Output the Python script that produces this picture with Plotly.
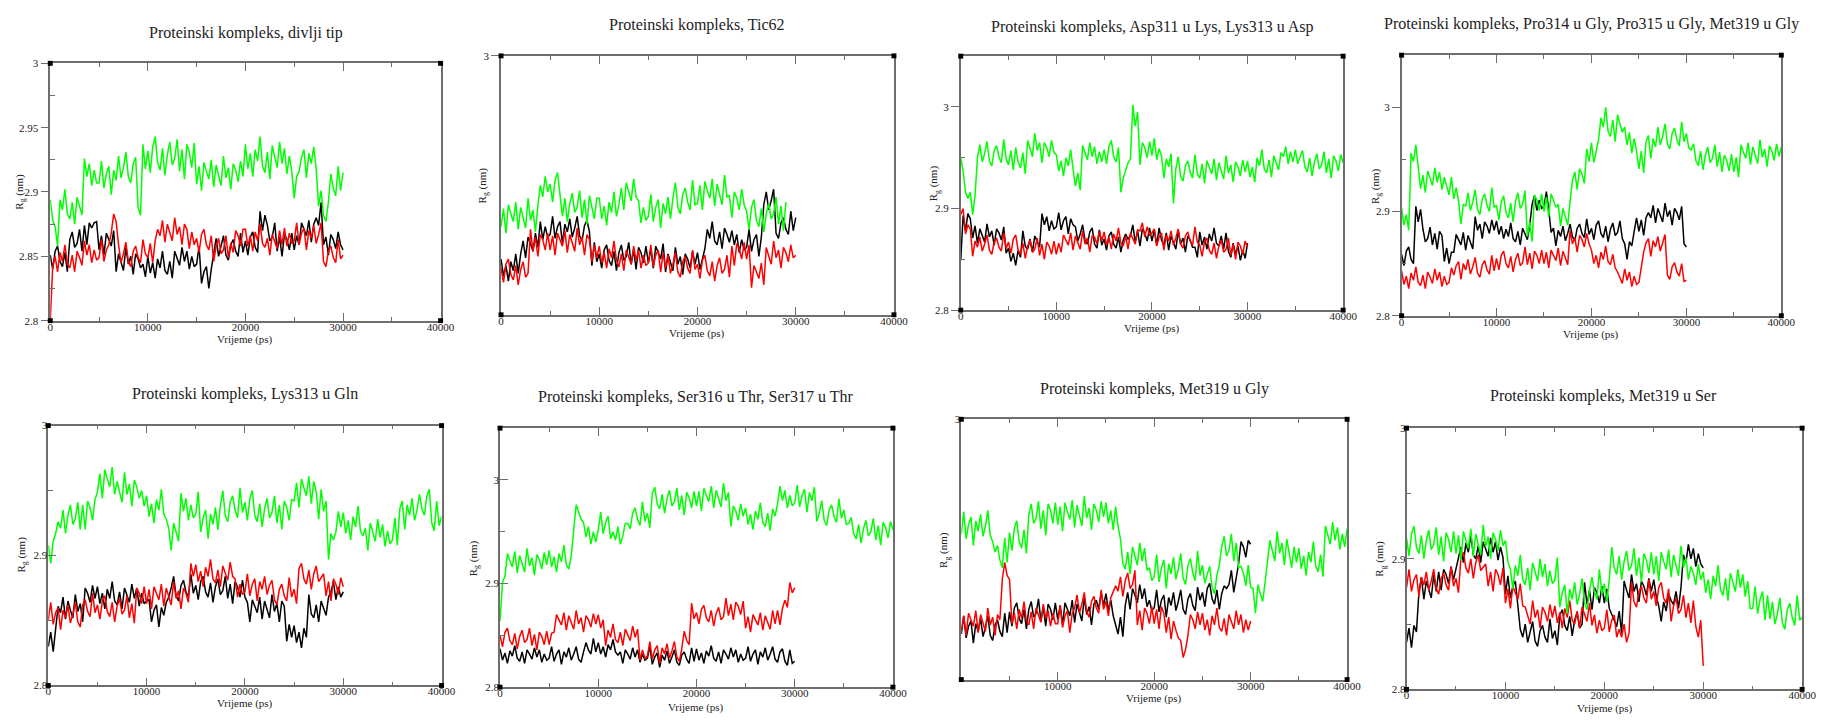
import plotly.graph_objects as go

W, H = 1830, 720
TIME_STEP_PS = 250

TITLES = [
    "Proteinski kompleks, divlji tip",
    "Proteinski kompleks, Tic62",
    "Proteinski kompleks, Asp311 u Lys, Lys313 u Asp",
    "Proteinski kompleks, Pro314 u Gly, Pro315 u Gly, Met319 u Gly",
    "Proteinski kompleks, Lys313 u Gln",
    "Proteinski kompleks, Ser316 u Thr, Ser317 u Thr",
    "Proteinski kompleks, Met319 u Gly",
    "Proteinski kompleks, Met319 u Ser",
]
X_TITLE = "Vrijeme (ps)"
Y_TITLE = "R<sub>g</sub> (nm)"

# ---------------- data: Rg (nm), one sample every 250 ps ----------------
P1_GREEN = [2.894, 2.878, 2.873, 2.858, 2.894, 2.886, 2.902, 2.883, 2.879, 2.892, 2.875, 2.896, 2.889, 2.882, 2.926, 2.912, 2.922, 2.905, 2.917, 2.907,
            2.907, 2.924, 2.903, 2.914, 2.920, 2.898, 2.917, 2.909, 2.928, 2.911, 2.919, 2.931, 2.912, 2.907, 2.922, 2.927, 2.888, 2.882, 2.937, 2.918,
            2.932, 2.915, 2.935, 2.943, 2.923, 2.917, 2.934, 2.913, 2.929, 2.939, 2.921, 2.926, 2.941, 2.916, 2.933, 2.910, 2.937, 2.931, 2.919, 2.938,
            2.906, 2.920, 2.901, 2.923, 2.916, 2.910, 2.925, 2.904, 2.921, 2.913, 2.905, 2.928, 2.911, 2.919, 2.902, 2.922, 2.917, 2.908, 2.924, 2.912,
            2.937, 2.918, 2.930, 2.912, 2.933, 2.924, 2.943, 2.920, 2.915, 2.931, 2.910, 2.936, 2.927, 2.919, 2.939, 2.922, 2.934, 2.914, 2.928, 2.916,
            2.895, 2.912, 2.916, 2.927, 2.933, 2.911, 2.930, 2.922, 2.935, 2.918, 2.889, 2.901, 2.882, 2.877, 2.892, 2.914, 2.903, 2.897, 2.920, 2.901,
            2.915]
P1_BLACK = [2.851, 2.840, 2.854, 2.858, 2.846, 2.842, 2.853, 2.838, 2.863, 2.869, 2.857, 2.860, 2.871, 2.854, 2.874, 2.859, 2.876, 2.872, 2.876, 2.877,
            2.855, 2.866, 2.851, 2.868, 2.863, 2.858, 2.870, 2.838, 2.852, 2.845, 2.839, 2.857, 2.844, 2.850, 2.836, 2.852, 2.848, 2.841, 2.844, 2.834,
            2.850, 2.837, 2.845, 2.833, 2.848, 2.841, 2.854, 2.839, 2.836, 2.846, 2.833, 2.854, 2.849, 2.843, 2.857, 2.846, 2.854, 2.840, 2.850, 2.842,
            2.844, 2.858, 2.829, 2.838, 2.842, 2.825, 2.840, 2.854, 2.864, 2.850, 2.857, 2.866, 2.851, 2.847, 2.859, 2.863, 2.854, 2.850, 2.868, 2.853,
            2.862, 2.851, 2.865, 2.869, 2.857, 2.853, 2.885, 2.870, 2.882, 2.874, 2.862, 2.865, 2.876, 2.854, 2.865, 2.850, 2.867, 2.863, 2.855, 2.868,
            2.855, 2.866, 2.859, 2.876, 2.871, 2.866, 2.878, 2.861, 2.875, 2.880, 2.874, 2.892, 2.859, 2.865, 2.851, 2.867, 2.863, 2.856, 2.869, 2.859,
            2.855]
P1_RED = [2.800, 2.842, 2.850, 2.838, 2.853, 2.846, 2.859, 2.844, 2.841, 2.851, 2.838, 2.854, 2.849, 2.843, 2.862, 2.851, 2.859, 2.845, 2.855, 2.847,
          2.849, 2.863, 2.846, 2.855, 2.859, 2.868, 2.883, 2.877, 2.859, 2.845, 2.852, 2.861, 2.846, 2.842, 2.854, 2.858, 2.849, 2.845, 2.863, 2.852,
          2.849, 2.860, 2.845, 2.862, 2.871, 2.866, 2.878, 2.861, 2.875, 2.868, 2.862, 2.880, 2.867, 2.873, 2.859, 2.875, 2.871, 2.856, 2.869, 2.859,
          2.864, 2.853, 2.867, 2.871, 2.859, 2.855, 2.866, 2.846, 2.858, 2.864, 2.852, 2.855, 2.866, 2.849, 2.860, 2.853, 2.870, 2.866, 2.858, 2.871,
          2.871, 2.858, 2.866, 2.854, 2.869, 2.862, 2.875, 2.860, 2.857, 2.864, 2.851, 2.867, 2.862, 2.856, 2.870, 2.859, 2.872, 2.858, 2.868, 2.860,
          2.862, 2.876, 2.859, 2.868, 2.872, 2.855, 2.870, 2.864, 2.874, 2.860, 2.867, 2.876, 2.846, 2.842, 2.854, 2.858, 2.849, 2.845, 2.863, 2.848,
          2.851]

P2_GREEN = [2.868, 2.882, 2.863, 2.885, 2.878, 2.872, 2.887, 2.866, 2.883, 2.875, 2.867, 2.890, 2.873, 2.881, 2.864, 2.884, 2.900, 2.891, 2.907, 2.895,
            2.901, 2.887, 2.904, 2.910, 2.894, 2.876, 2.890, 2.872, 2.886, 2.894, 2.879, 2.883, 2.896, 2.875, 2.889, 2.870, 2.892, 2.884, 2.874, 2.890,
            2.890, 2.874, 2.884, 2.869, 2.887, 2.879, 2.895, 2.876, 2.885, 2.898, 2.881, 2.902, 2.895, 2.888, 2.905, 2.891, 2.888, 2.871, 2.883, 2.873,
            2.876, 2.893, 2.872, 2.883, 2.889, 2.867, 2.886, 2.878, 2.891, 2.874, 2.890, 2.902, 2.883, 2.878, 2.893, 2.898, 2.887, 2.881, 2.904, 2.885,
            2.886, 2.900, 2.881, 2.903, 2.896, 2.890, 2.905, 2.884, 2.901, 2.893, 2.885, 2.908, 2.891, 2.892, 2.875, 2.895, 2.890, 2.881, 2.897, 2.885,
            2.880, 2.866, 2.883, 2.889, 2.873, 2.868, 2.882, 2.864, 2.878, 2.886, 2.874, 2.878, 2.891, 2.870, 2.884, 2.865, 2.887]
P2_BLACK = [2.843, 2.830, 2.838, 2.826, 2.841, 2.834, 2.847, 2.832, 2.847, 2.857, 2.844, 2.860, 2.855, 2.849, 2.863, 2.852, 2.872, 2.858, 2.868, 2.860,
            2.862, 2.876, 2.859, 2.868, 2.872, 2.855, 2.870, 2.864, 2.874, 2.860, 2.867, 2.876, 2.861, 2.857, 2.869, 2.873, 2.864, 2.838, 2.856, 2.841,
            2.847, 2.836, 2.850, 2.854, 2.842, 2.838, 2.849, 2.834, 2.848, 2.854, 2.842, 2.845, 2.856, 2.839, 2.850, 2.835, 2.852, 2.848, 2.840, 2.853,
            2.840, 2.851, 2.836, 2.853, 2.848, 2.843, 2.855, 2.833, 2.847, 2.840, 2.834, 2.852, 2.839, 2.845, 2.831, 2.847, 2.843, 2.836, 2.849, 2.839,
            2.848, 2.835, 2.843, 2.851, 2.866, 2.859, 2.872, 2.857, 2.854, 2.864, 2.851, 2.867, 2.862, 2.856, 2.865, 2.854, 2.862, 2.848, 2.858, 2.850,
            2.852, 2.866, 2.849, 2.858, 2.862, 2.845, 2.860, 2.885, 2.895, 2.881, 2.888, 2.897, 2.863, 2.859, 2.871, 2.875, 2.866, 2.862, 2.880, 2.865,
            2.875]
P2_RED = [2.836, 2.825, 2.839, 2.843, 2.831, 2.827, 2.838, 2.823, 2.835, 2.841, 2.829, 2.832, 2.866, 2.849, 2.860, 2.845, 2.862, 2.858, 2.850, 2.863,
          2.850, 2.861, 2.846, 2.863, 2.858, 2.853, 2.865, 2.848, 2.862, 2.855, 2.849, 2.867, 2.854, 2.860, 2.846, 2.862, 2.858, 2.841, 2.854, 2.844,
          2.853, 2.840, 2.848, 2.836, 2.851, 2.844, 2.857, 2.842, 2.837, 2.847, 2.834, 2.850, 2.845, 2.839, 2.853, 2.842, 2.850, 2.836, 2.846, 2.838,
          2.840, 2.854, 2.837, 2.846, 2.850, 2.833, 2.848, 2.836, 2.846, 2.832, 2.839, 2.848, 2.833, 2.829, 2.841, 2.845, 2.836, 2.832, 2.850, 2.835,
          2.839, 2.828, 2.842, 2.846, 2.834, 2.830, 2.841, 2.826, 2.838, 2.844, 2.832, 2.835, 2.846, 2.829, 2.853, 2.838, 2.855, 2.851, 2.843, 2.856,
          2.843, 2.854, 2.821, 2.838, 2.833, 2.828, 2.840, 2.823, 2.852, 2.845, 2.839, 2.857, 2.844, 2.850, 2.836, 2.852, 2.848, 2.841, 2.854, 2.844,
          2.846]

P3_GREEN = [2.950, 2.937, 2.916, 2.910, 2.916, 2.894, 2.913, 2.950, 2.963, 2.946, 2.954, 2.966, 2.947, 2.942, 2.957, 2.962, 2.951, 2.945, 2.968, 2.949,
            2.943, 2.957, 2.938, 2.960, 2.946, 2.940, 2.955, 2.934, 2.967, 2.959, 2.951, 2.974, 2.957, 2.965, 2.945, 2.965, 2.960, 2.951, 2.967, 2.955,
            2.953, 2.937, 2.947, 2.932, 2.950, 2.942, 2.958, 2.939, 2.922, 2.935, 2.918, 2.962, 2.955, 2.948, 2.965, 2.951, 2.961, 2.944, 2.956, 2.946,
            2.958, 2.944, 2.961, 2.967, 2.951, 2.946, 2.960, 2.916, 2.930, 2.938, 2.945, 2.949, 3.002, 2.981, 2.995, 2.943, 2.965, 2.960, 2.950, 2.966,
            2.952, 2.969, 2.948, 2.959, 2.952, 2.930, 2.949, 2.941, 2.954, 2.905, 2.939, 2.951, 2.932, 2.927, 2.942, 2.947, 2.936, 2.930, 2.953, 2.934,
            2.930, 2.944, 2.925, 2.947, 2.940, 2.934, 2.949, 2.928, 2.945, 2.937, 2.929, 2.952, 2.935, 2.943, 2.926, 2.946, 2.941, 2.932, 2.948, 2.936,
            2.947, 2.931, 2.941, 2.926, 2.950, 2.942, 2.958, 2.939, 2.935, 2.948, 2.931, 2.952, 2.945, 2.938, 2.955, 2.951, 2.961, 2.944, 2.956, 2.946,
            2.958, 2.944, 2.951, 2.957, 2.941, 2.936, 2.950, 2.932, 2.946, 2.954, 2.939, 2.943, 2.956, 2.935, 2.949, 2.930, 2.952, 2.947, 2.937, 2.953,
            2.945]
P3_BLACK = [2.849, 2.893, 2.878, 2.895, 2.890, 2.871, 2.883, 2.866, 2.880, 2.873, 2.867, 2.885, 2.872, 2.878, 2.864, 2.880, 2.876, 2.869, 2.882, 2.856,
            2.861, 2.848, 2.856, 2.844, 2.859, 2.852, 2.878, 2.863, 2.860, 2.870, 2.857, 2.873, 2.868, 2.862, 2.895, 2.884, 2.892, 2.878, 2.888, 2.880,
            2.882, 2.896, 2.879, 2.888, 2.892, 2.875, 2.890, 2.884, 2.882, 2.868, 2.875, 2.884, 2.869, 2.865, 2.877, 2.881, 2.865, 2.861, 2.879, 2.864,
            2.870, 2.859, 2.873, 2.877, 2.865, 2.861, 2.872, 2.857, 2.869, 2.875, 2.870, 2.873, 2.884, 2.867, 2.878, 2.863, 2.880, 2.876, 2.868, 2.881,
            2.868, 2.879, 2.864, 2.881, 2.869, 2.864, 2.876, 2.859, 2.873, 2.866, 2.860, 2.878, 2.865, 2.871, 2.857, 2.873, 2.869, 2.862, 2.862, 2.852,
            2.877, 2.864, 2.872, 2.860, 2.875, 2.868, 2.881, 2.866, 2.863, 2.873, 2.860, 2.876, 2.858, 2.852, 2.866, 2.855, 2.863, 2.849, 2.859, 2.851,
            2.866]
P3_RED = [2.894, 2.900, 2.875, 2.884, 2.880, 2.853, 2.868, 2.862, 2.872, 2.858, 2.865, 2.874, 2.859, 2.855, 2.867, 2.871, 2.862, 2.858, 2.876, 2.861,
          2.867, 2.856, 2.870, 2.874, 2.859, 2.855, 2.866, 2.851, 2.863, 2.869, 2.857, 2.860, 2.871, 2.854, 2.865, 2.850, 2.867, 2.863, 2.855, 2.868,
          2.855, 2.866, 2.857, 2.874, 2.869, 2.864, 2.876, 2.859, 2.873, 2.866, 2.860, 2.878, 2.865, 2.871, 2.857, 2.873, 2.872, 2.865, 2.878, 2.868,
          2.877, 2.864, 2.872, 2.860, 2.875, 2.868, 2.881, 2.866, 2.863, 2.873, 2.860, 2.876, 2.871, 2.865, 2.879, 2.878, 2.886, 2.872, 2.882, 2.874,
          2.876, 2.880, 2.863, 2.872, 2.876, 2.859, 2.874, 2.868, 2.878, 2.864, 2.871, 2.880, 2.865, 2.861, 2.873, 2.877, 2.868, 2.864, 2.882, 2.867,
          2.864, 2.853, 2.867, 2.871, 2.859, 2.855, 2.866, 2.851, 2.863, 2.869, 2.857, 2.860, 2.871, 2.854, 2.865, 2.850, 2.867, 2.863, 2.855, 2.868,
          2.862]

P4_GREEN = [2.903, 2.887, 2.897, 2.882, 2.956, 2.948, 2.964, 2.945, 2.922, 2.935, 2.918, 2.939, 2.932, 2.925, 2.942, 2.928, 2.938, 2.921, 2.933, 2.923,
            2.916, 2.933, 2.912, 2.923, 2.910, 2.888, 2.907, 2.905, 2.918, 2.901, 2.909, 2.921, 2.902, 2.897, 2.912, 2.917, 2.906, 2.900, 2.923, 2.904,
            2.906, 2.892, 2.909, 2.915, 2.899, 2.894, 2.908, 2.890, 2.910, 2.918, 2.903, 2.907, 2.920, 2.876, 2.890, 2.871, 2.916, 2.911, 2.901, 2.917,
            2.900, 2.914, 2.895, 2.917, 2.910, 2.904, 2.907, 2.886, 2.903, 2.895, 2.887, 2.910, 2.930, 2.938, 2.921, 2.941, 2.936, 2.927, 2.960, 2.948,
            2.966, 2.947, 2.959, 2.969, 2.990, 2.981, 3.000, 2.977, 2.972, 2.988, 2.967, 2.993, 2.984, 2.976, 2.981, 2.964, 2.976, 2.956, 2.970, 2.958,
            2.941, 2.958, 2.937, 2.967, 2.973, 2.951, 2.970, 2.962, 2.981, 2.964, 2.972, 2.984, 2.965, 2.960, 2.975, 2.980, 2.969, 2.963, 2.986, 2.967,
            2.975, 2.961, 2.959, 2.965, 2.949, 2.944, 2.958, 2.940, 2.954, 2.962, 2.947, 2.951, 2.964, 2.943, 2.957, 2.938, 2.954, 2.949, 2.939, 2.955,
            2.938, 2.952, 2.933, 2.964, 2.957, 2.951, 2.966, 2.945, 2.962, 2.954, 2.946, 2.969, 2.952, 2.960, 2.943, 2.963, 2.958, 2.949, 2.965, 2.953,
            2.962]
P4_BLACK = [2.859, 2.848, 2.862, 2.866, 2.854, 2.850, 2.905, 2.890, 2.902, 2.883, 2.871, 2.874, 2.885, 2.868, 2.879, 2.864, 2.881, 2.877, 2.852, 2.865,
            2.850, 2.861, 2.861, 2.878, 2.873, 2.868, 2.880, 2.863, 2.877, 2.870, 2.864, 2.895, 2.882, 2.888, 2.874, 2.890, 2.886, 2.879, 2.892, 2.882,
            2.891, 2.878, 2.886, 2.874, 2.883, 2.876, 2.889, 2.874, 2.871, 2.881, 2.868, 2.884, 2.879, 2.873, 2.887, 2.907, 2.915, 2.901, 2.911, 2.903,
            2.905, 2.919, 2.902, 2.880, 2.884, 2.867, 2.882, 2.876, 2.886, 2.872, 2.879, 2.888, 2.876, 2.872, 2.884, 2.888, 2.879, 2.875, 2.893, 2.878,
            2.884, 2.873, 2.887, 2.891, 2.879, 2.875, 2.886, 2.871, 2.883, 2.889, 2.877, 2.880, 2.891, 2.874, 2.869, 2.854, 2.871, 2.867, 2.881, 2.894,
            2.881, 2.892, 2.877, 2.894, 2.899, 2.894, 2.906, 2.889, 2.903, 2.896, 2.890, 2.908, 2.895, 2.901, 2.887, 2.903, 2.899, 2.892, 2.905, 2.869,
            2.866]
P4_RED = [2.843, 2.830, 2.838, 2.826, 2.841, 2.834, 2.847, 2.832, 2.829, 2.839, 2.826, 2.842, 2.837, 2.831, 2.845, 2.834, 2.842, 2.828, 2.838, 2.830,
          2.832, 2.846, 2.839, 2.848, 2.852, 2.835, 2.850, 2.844, 2.854, 2.840, 2.847, 2.856, 2.841, 2.837, 2.849, 2.853, 2.844, 2.840, 2.858, 2.843,
          2.855, 2.844, 2.858, 2.862, 2.850, 2.846, 2.857, 2.842, 2.854, 2.860, 2.848, 2.851, 2.866, 2.849, 2.860, 2.845, 2.862, 2.858, 2.850, 2.863,
          2.850, 2.861, 2.846, 2.863, 2.858, 2.853, 2.865, 2.848, 2.862, 2.855, 2.849, 2.882, 2.869, 2.875, 2.861, 2.877, 2.873, 2.866, 2.879, 2.869,
          2.863, 2.850, 2.858, 2.846, 2.861, 2.854, 2.867, 2.852, 2.849, 2.859, 2.846, 2.842, 2.837, 2.831, 2.845, 2.834, 2.842, 2.828, 2.838, 2.830,
          2.832, 2.846, 2.861, 2.870, 2.874, 2.857, 2.872, 2.866, 2.876, 2.862, 2.869, 2.878, 2.839, 2.835, 2.847, 2.851, 2.842, 2.838, 2.850, 2.833,
          2.834]

P5_GREEN = [2.908, 2.894, 2.911, 2.917, 2.926, 2.921, 2.935, 2.917, 2.931, 2.939, 2.924, 2.928, 2.941, 2.920, 2.939, 2.920, 2.942, 2.937, 2.927, 2.943,
            2.949, 2.963, 2.944, 2.966, 2.959, 2.953, 2.968, 2.947, 2.957, 2.949, 2.941, 2.964, 2.947, 2.955, 2.938, 2.958, 2.953, 2.944, 2.950, 2.938,
            2.946, 2.930, 2.940, 2.925, 2.943, 2.935, 2.951, 2.932, 2.928, 2.921, 2.904, 2.925, 2.918, 2.911, 2.948, 2.934, 2.944, 2.927, 2.939, 2.929,
            2.932, 2.949, 2.918, 2.929, 2.935, 2.913, 2.932, 2.924, 2.937, 2.920, 2.938, 2.950, 2.931, 2.926, 2.941, 2.946, 2.935, 2.929, 2.952, 2.933,
            2.941, 2.927, 2.944, 2.950, 2.931, 2.926, 2.940, 2.922, 2.936, 2.944, 2.929, 2.933, 2.946, 2.925, 2.939, 2.920, 2.942, 2.937, 2.927, 2.943,
            2.942, 2.956, 2.937, 2.959, 2.952, 2.946, 2.961, 2.940, 2.957, 2.949, 2.928, 2.951, 2.934, 2.942, 2.897, 2.917, 2.912, 2.918, 2.934, 2.922,
            2.933, 2.917, 2.927, 2.912, 2.930, 2.922, 2.938, 2.919, 2.915, 2.921, 2.904, 2.925, 2.918, 2.911, 2.928, 2.914, 2.924, 2.907, 2.919, 2.909,
            2.912, 2.929, 2.908, 2.936, 2.942, 2.920, 2.939, 2.931, 2.944, 2.927, 2.935, 2.947, 2.936, 2.931, 2.946, 2.951, 2.925, 2.919, 2.942, 2.923,
            2.930]
P5_BLACK = [2.830, 2.841, 2.826, 2.843, 2.861, 2.856, 2.868, 2.851, 2.865, 2.858, 2.852, 2.870, 2.857, 2.863, 2.849, 2.875, 2.871, 2.864, 2.877, 2.867,
            2.876, 2.863, 2.871, 2.859, 2.874, 2.867, 2.880, 2.865, 2.862, 2.872, 2.859, 2.875, 2.870, 2.864, 2.878, 2.867, 2.875, 2.861, 2.871, 2.863,
            2.865, 2.866, 2.849, 2.858, 2.862, 2.845, 2.860, 2.854, 2.864, 2.868, 2.875, 2.884, 2.869, 2.865, 2.877, 2.881, 2.872, 2.868, 2.886, 2.871,
            2.877, 2.866, 2.880, 2.884, 2.872, 2.868, 2.879, 2.864, 2.876, 2.882, 2.870, 2.873, 2.884, 2.867, 2.878, 2.863, 2.880, 2.876, 2.868, 2.881,
            2.868, 2.864, 2.849, 2.866, 2.861, 2.856, 2.868, 2.851, 2.865, 2.858, 2.852, 2.870, 2.857, 2.863, 2.849, 2.865, 2.861, 2.834, 2.847, 2.837,
            2.846, 2.833, 2.841, 2.829, 2.844, 2.837, 2.870, 2.855, 2.852, 2.862, 2.849, 2.865, 2.860, 2.854, 2.868, 2.872, 2.880, 2.866, 2.876, 2.868,
            2.872]
P5_RED = [2.850, 2.864, 2.847, 2.856, 2.860, 2.843, 2.858, 2.852, 2.862, 2.848, 2.855, 2.864, 2.849, 2.845, 2.862, 2.866, 2.857, 2.853, 2.871, 2.856,
          2.862, 2.851, 2.865, 2.869, 2.857, 2.853, 2.864, 2.849, 2.861, 2.867, 2.855, 2.858, 2.869, 2.852, 2.863, 2.848, 2.875, 2.871, 2.863, 2.876,
          2.863, 2.874, 2.859, 2.876, 2.871, 2.866, 2.878, 2.861, 2.875, 2.868, 2.862, 2.880, 2.867, 2.873, 2.859, 2.875, 2.871, 2.864, 2.894, 2.884,
          2.893, 2.880, 2.888, 2.876, 2.891, 2.884, 2.897, 2.882, 2.879, 2.889, 2.876, 2.892, 2.887, 2.881, 2.895, 2.884, 2.882, 2.868, 2.878, 2.870,
          2.872, 2.886, 2.869, 2.878, 2.882, 2.865, 2.880, 2.874, 2.884, 2.870, 2.877, 2.881, 2.866, 2.862, 2.874, 2.878, 2.869, 2.865, 2.883, 2.868,
          2.874, 2.863, 2.890, 2.894, 2.882, 2.878, 2.889, 2.874, 2.886, 2.892, 2.880, 2.883, 2.886, 2.869, 2.880, 2.865, 2.882, 2.878, 2.870, 2.883,
          2.876]

P6_GREEN = [2.864, 2.901, 2.907, 2.929, 2.922, 2.916, 2.931, 2.910, 2.927, 2.919, 2.911, 2.934, 2.917, 2.925, 2.908, 2.928, 2.923, 2.914, 2.930, 2.918,
            2.932, 2.916, 2.926, 2.911, 2.929, 2.921, 2.937, 2.918, 2.914, 2.927, 2.955, 2.976, 2.969, 2.962, 2.959, 2.945, 2.955, 2.938, 2.950, 2.940,
            2.952, 2.969, 2.948, 2.959, 2.965, 2.943, 2.950, 2.942, 2.955, 2.938, 2.946, 2.958, 2.958, 2.953, 2.968, 2.973, 2.962, 2.956, 2.979, 2.960,
            2.968, 2.954, 2.987, 2.993, 2.977, 2.972, 2.986, 2.968, 2.982, 2.990, 2.975, 2.979, 2.992, 2.971, 2.985, 2.966, 2.988, 2.983, 2.973, 2.989,
            2.975, 2.989, 2.970, 2.992, 2.985, 2.979, 2.994, 2.973, 2.990, 2.982, 2.974, 2.997, 2.980, 2.988, 2.955, 2.975, 2.970, 2.961, 2.977, 2.965,
            2.973, 2.957, 2.967, 2.952, 2.970, 2.962, 2.978, 2.959, 2.955, 2.968, 2.951, 2.972, 2.965, 2.977, 2.994, 2.980, 2.990, 2.973, 2.985, 2.975,
            2.978, 2.995, 2.974, 2.985, 2.991, 2.969, 2.988, 2.980, 2.993, 2.960, 2.968, 2.980, 2.961, 2.956, 2.971, 2.976, 2.965, 2.959, 2.982, 2.963,
            2.971, 2.957, 2.958, 2.964, 2.948, 2.943, 2.957, 2.939, 2.953, 2.961, 2.946, 2.950, 2.963, 2.942, 2.956, 2.937, 2.959, 2.954, 2.944, 2.960,
            2.952]
P6_BLACK = [2.837, 2.826, 2.833, 2.823, 2.835, 2.830, 2.840, 2.828, 2.825, 2.834, 2.823, 2.836, 2.832, 2.827, 2.838, 2.829, 2.836, 2.824, 2.832, 2.826,
            2.828, 2.839, 2.825, 2.832, 2.836, 2.822, 2.834, 2.829, 2.838, 2.826, 2.832, 2.839, 2.827, 2.824, 2.834, 2.843, 2.836, 2.832, 2.847, 2.834,
            2.843, 2.832, 2.839, 2.829, 2.841, 2.836, 2.846, 2.834, 2.831, 2.834, 2.823, 2.836, 2.832, 2.827, 2.838, 2.829, 2.836, 2.824, 2.832, 2.826,
            2.828, 2.839, 2.822, 2.829, 2.833, 2.819, 2.831, 2.826, 2.835, 2.823, 2.829, 2.836, 2.824, 2.821, 2.831, 2.834, 2.827, 2.823, 2.838, 2.825,
            2.837, 2.826, 2.833, 2.823, 2.835, 2.830, 2.840, 2.828, 2.825, 2.834, 2.823, 2.836, 2.832, 2.827, 2.838, 2.829, 2.836, 2.824, 2.832, 2.826,
            2.828, 2.839, 2.825, 2.832, 2.836, 2.822, 2.834, 2.829, 2.838, 2.826, 2.832, 2.839, 2.827, 2.824, 2.834, 2.837, 2.825, 2.821, 2.836, 2.823,
            2.825]
P6_RED = [2.850, 2.839, 2.853, 2.857, 2.845, 2.841, 2.852, 2.837, 2.849, 2.855, 2.843, 2.846, 2.857, 2.840, 2.851, 2.836, 2.853, 2.849, 2.841, 2.854,
          2.841, 2.852, 2.853, 2.870, 2.865, 2.860, 2.872, 2.855, 2.869, 2.862, 2.856, 2.874, 2.861, 2.867, 2.853, 2.869, 2.865, 2.858, 2.871, 2.861,
          2.870, 2.857, 2.865, 2.840, 2.855, 2.848, 2.861, 2.846, 2.843, 2.853, 2.840, 2.856, 2.851, 2.845, 2.859, 2.848, 2.856, 2.826, 2.836, 2.828,
          2.830, 2.844, 2.827, 2.836, 2.840, 2.823, 2.838, 2.832, 2.842, 2.828, 2.835, 2.844, 2.829, 2.825, 2.837, 2.854, 2.845, 2.841, 2.881, 2.866,
          2.872, 2.861, 2.875, 2.879, 2.867, 2.863, 2.874, 2.859, 2.871, 2.877, 2.865, 2.868, 2.886, 2.869, 2.880, 2.865, 2.882, 2.878, 2.870, 2.883,
          2.857, 2.868, 2.853, 2.870, 2.865, 2.860, 2.872, 2.855, 2.869, 2.862, 2.856, 2.874, 2.861, 2.874, 2.860, 2.876, 2.884, 2.877, 2.901, 2.891,
          2.896]

P7_GREEN = [2.912, 2.929, 2.908, 2.919, 2.925, 2.903, 2.922, 2.914, 2.927, 2.910, 2.918, 2.930, 2.911, 2.906, 2.898, 2.903, 2.892, 2.886, 2.909, 2.890,
            2.913, 2.899, 2.916, 2.922, 2.906, 2.901, 2.915, 2.897, 2.927, 2.935, 2.920, 2.924, 2.937, 2.916, 2.930, 2.911, 2.935, 2.930, 2.920, 2.936,
            2.919, 2.933, 2.914, 2.936, 2.929, 2.923, 2.938, 2.917, 2.934, 2.926, 2.918, 2.941, 2.924, 2.932, 2.915, 2.935, 2.930, 2.921, 2.937, 2.925,
            2.936, 2.920, 2.930, 2.915, 2.933, 2.918, 2.908, 2.889, 2.885, 2.898, 2.881, 2.902, 2.895, 2.888, 2.905, 2.891, 2.901, 2.884, 2.886, 2.876,
            2.879, 2.896, 2.875, 2.886, 2.892, 2.870, 2.889, 2.881, 2.894, 2.877, 2.885, 2.897, 2.878, 2.873, 2.888, 2.893, 2.882, 2.876, 2.899, 2.880,
            2.888, 2.874, 2.881, 2.887, 2.871, 2.866, 2.880, 2.888, 2.902, 2.910, 2.895, 2.899, 2.912, 2.891, 2.905, 2.886, 2.887, 2.882, 2.872, 2.888,
            2.871, 2.870, 2.851, 2.873, 2.866, 2.860, 2.875, 2.890, 2.907, 2.899, 2.891, 2.914, 2.897, 2.905, 2.888, 2.908, 2.895, 2.886, 2.902, 2.890,
            2.901, 2.885, 2.895, 2.880, 2.898, 2.890, 2.906, 2.887, 2.883, 2.896, 2.879, 2.918, 2.911, 2.904, 2.921, 2.907, 2.917, 2.900, 2.912, 2.902,
            2.916]
P7_BLACK = [2.835, 2.849, 2.832, 2.841, 2.845, 2.828, 2.843, 2.837, 2.847, 2.833, 2.840, 2.849, 2.834, 2.830, 2.842, 2.846, 2.837, 2.833, 2.851, 2.836,
            2.852, 2.841, 2.855, 2.859, 2.847, 2.843, 2.854, 2.839, 2.854, 2.860, 2.848, 2.851, 2.862, 2.845, 2.856, 2.841, 2.858, 2.854, 2.846, 2.859,
            2.846, 2.857, 2.842, 2.859, 2.854, 2.849, 2.861, 2.844, 2.858, 2.851, 2.845, 2.863, 2.850, 2.856, 2.842, 2.858, 2.861, 2.854, 2.867, 2.857,
            2.866, 2.853, 2.861, 2.849, 2.842, 2.835, 2.848, 2.833, 2.857, 2.867, 2.854, 2.870, 2.865, 2.859, 2.873, 2.862, 2.870, 2.856, 2.861, 2.853,
            2.855, 2.869, 2.852, 2.861, 2.865, 2.848, 2.863, 2.857, 2.867, 2.853, 2.860, 2.869, 2.854, 2.850, 2.862, 2.866, 2.857, 2.853, 2.871, 2.861,
            2.867, 2.856, 2.870, 2.874, 2.862, 2.858, 2.869, 2.854, 2.866, 2.872, 2.870, 2.873, 2.884, 2.867, 2.878, 2.889, 2.906, 2.902, 2.894, 2.907,
            2.904]
P7_RED = [2.838, 2.849, 2.834, 2.851, 2.846, 2.841, 2.853, 2.836, 2.850, 2.843, 2.837, 2.855, 2.842, 2.848, 2.834, 2.850, 2.846, 2.877, 2.890, 2.880,
          2.877, 2.843, 2.851, 2.839, 2.854, 2.847, 2.860, 2.845, 2.842, 2.852, 2.839, 2.855, 2.850, 2.844, 2.858, 2.847, 2.853, 2.841, 2.851, 2.843,
          2.843, 2.857, 2.840, 2.849, 2.853, 2.836, 2.851, 2.855, 2.865, 2.851, 2.858, 2.867, 2.852, 2.848, 2.860, 2.864, 2.855, 2.851, 2.869, 2.854,
          2.860, 2.849, 2.863, 2.867, 2.872, 2.868, 2.879, 2.864, 2.876, 2.882, 2.870, 2.873, 2.884, 2.842, 2.853, 2.838, 2.855, 2.851, 2.843, 2.856,
          2.843, 2.854, 2.839, 2.856, 2.851, 2.836, 2.848, 2.831, 2.845, 2.838, 2.832, 2.830, 2.817, 2.823, 2.834, 2.850, 2.846, 2.839, 2.852, 2.842,
          2.851, 2.838, 2.846, 2.834, 2.849, 2.842, 2.855, 2.840, 2.837, 2.847, 2.834, 2.850, 2.845, 2.839, 2.853, 2.842, 2.850, 2.836, 2.846, 2.838,
          2.845]

P8_GREEN = [2.916, 2.902, 2.919, 2.925, 2.909, 2.904, 2.918, 2.900, 2.914, 2.922, 2.907, 2.911, 2.924, 2.903, 2.917, 2.898, 2.920, 2.915, 2.905, 2.921,
            2.904, 2.918, 2.899, 2.921, 2.914, 2.908, 2.923, 2.902, 2.919, 2.911, 2.903, 2.926, 2.909, 2.917, 2.900, 2.920, 2.915, 2.906, 2.922, 2.910,
            2.914, 2.898, 2.892, 2.877, 2.895, 2.887, 2.903, 2.884, 2.880, 2.893, 2.876, 2.897, 2.890, 2.883, 2.900, 2.886, 2.896, 2.879, 2.891, 2.881,
            2.884, 2.901, 2.863, 2.874, 2.880, 2.858, 2.877, 2.869, 2.882, 2.865, 2.873, 2.885, 2.866, 2.861, 2.876, 2.886, 2.875, 2.869, 2.892, 2.873,
            2.881, 2.867, 2.884, 2.909, 2.893, 2.888, 2.902, 2.884, 2.898, 2.906, 2.891, 2.895, 2.908, 2.887, 2.901, 2.882, 2.904, 2.899, 2.889, 2.905,
            2.888, 2.902, 2.883, 2.905, 2.898, 2.892, 2.907, 2.886, 2.903, 2.895, 2.887, 2.910, 2.893, 2.901, 2.884, 2.894, 2.889, 2.880, 2.896, 2.884,
            2.890, 2.874, 2.884, 2.869, 2.887, 2.879, 2.895, 2.876, 2.872, 2.885, 2.868, 2.889, 2.882, 2.875, 2.892, 2.878, 2.888, 2.871, 2.883, 2.862,
            2.862, 2.879, 2.858, 2.869, 2.875, 2.853, 2.872, 2.854, 2.867, 2.850, 2.858, 2.870, 2.851, 2.846, 2.861, 2.866, 2.855, 2.849, 2.872, 2.853,
            2.855]
P8_BLACK = [2.836, 2.847, 2.832, 2.849, 2.844, 2.874, 2.886, 2.869, 2.883, 2.876, 2.870, 2.888, 2.875, 2.890, 2.876, 2.892, 2.888, 2.881, 2.894, 2.884,
            2.893, 2.901, 2.909, 2.897, 2.912, 2.905, 2.918, 2.903, 2.900, 2.910, 2.897, 2.913, 2.908, 2.902, 2.916, 2.905, 2.913, 2.899, 2.909, 2.901,
            2.873, 2.887, 2.870, 2.879, 2.883, 2.866, 2.846, 2.840, 2.850, 2.836, 2.843, 2.852, 2.837, 2.833, 2.845, 2.849, 2.840, 2.836, 2.854, 2.839,
            2.845, 2.834, 2.857, 2.861, 2.849, 2.845, 2.856, 2.841, 2.853, 2.859, 2.847, 2.850, 2.882, 2.865, 2.876, 2.861, 2.878, 2.874, 2.866, 2.879,
            2.866, 2.877, 2.862, 2.858, 2.853, 2.848, 2.860, 2.843, 2.883, 2.876, 2.870, 2.888, 2.875, 2.881, 2.867, 2.883, 2.879, 2.872, 2.885, 2.875,
            2.884, 2.871, 2.864, 2.852, 2.867, 2.860, 2.873, 2.868, 2.865, 2.875, 2.862, 2.878, 2.903, 2.897, 2.911, 2.900, 2.908, 2.894, 2.904, 2.896,
            2.893]
P8_RED = [2.878, 2.892, 2.875, 2.884, 2.888, 2.871, 2.886, 2.880, 2.890, 2.876, 2.883, 2.892, 2.877, 2.873, 2.885, 2.889, 2.880, 2.876, 2.894, 2.879,
          2.885, 2.874, 2.901, 2.905, 2.893, 2.889, 2.900, 2.885, 2.897, 2.903, 2.891, 2.894, 2.896, 2.879, 2.890, 2.875, 2.892, 2.888, 2.880, 2.893,
          2.866, 2.877, 2.862, 2.879, 2.874, 2.869, 2.881, 2.864, 2.863, 2.856, 2.850, 2.868, 2.855, 2.861, 2.847, 2.863, 2.859, 2.852, 2.865, 2.855,
          2.864, 2.851, 2.859, 2.847, 2.862, 2.855, 2.868, 2.853, 2.850, 2.860, 2.847, 2.863, 2.858, 2.852, 2.866, 2.849, 2.857, 2.843, 2.853, 2.845,
          2.847, 2.861, 2.844, 2.853, 2.857, 2.840, 2.846, 2.840, 2.850, 2.836, 2.843, 2.882, 2.867, 2.863, 2.875, 2.879, 2.870, 2.866, 2.884, 2.869,
          2.875, 2.864, 2.878, 2.882, 2.870, 2.866, 2.877, 2.852, 2.864, 2.870, 2.858, 2.861, 2.872, 2.855, 2.866, 2.851, 2.868, 2.848, 2.840, 2.853,
          2.818]

# drawing order inside each panel: black, red, green
SERIES = [
    (P1_BLACK, P1_RED, P1_GREEN),
    (P2_BLACK, P2_RED, P2_GREEN),
    (P3_BLACK, P3_RED, P3_GREEN),
    (P4_BLACK, P4_RED, P4_GREEN),
    (P5_BLACK, P5_RED, P5_GREEN),
    (P6_BLACK, P6_RED, P6_GREEN),
    (P7_BLACK, P7_RED, P7_GREEN),
    (P8_BLACK, P8_RED, P8_GREEN),
]
SERIES_COLORS = ["#000000", "#ff0000", "#00ff00"]

X_TICKS = [0, 10000, 20000, 30000, 40000]
X_MINOR = [5000, 15000, 25000, 35000]
X_LABELS = [["0", "10000", "20000", "30000", "40000"]] * 6 + \
           [["", "10000", "20000", "30000", "40000"], ["0", "10000", "20000", "30000", "40000"]]

Y_CFG = [
    dict(r=[2.8, 3.0], tv=[2.8, 2.85, 2.9, 2.95, 3.0], tt=["2.8", "2.85", "2.9", "2.95", "3"], mv=[2.825, 2.875, 2.925, 2.975]),
    dict(r=[2.8, 3.0], tv=[3.0], tt=["3"], mv=[]),
    dict(r=[2.8, 3.05], tv=[2.8, 2.9, 3.0], tt=["2.8", "2.9", "3"], mv=[2.85, 2.95]),
    dict(r=[2.8, 3.05], tv=[2.8, 2.9, 3.0], tt=["2.8", "2.9", "3"], mv=[2.85, 2.95]),
    dict(r=[2.8, 3.0], tv=[2.8, 2.9, 3.0], tt=["2.8", "2.9", "3"], mv=[2.85, 2.95]),
    dict(r=[2.8, 3.05], tv=[2.8, 2.9, 3.0], tt=["2.8", "2.9", "3"], mv=[2.85, 2.95]),
    dict(r=[2.8, 3.0], tv=[3.0], tt=["3"], mv=[]),
    dict(r=[2.8, 3.0], tv=[2.8, 2.9, 3.0], tt=["2.8", "2.9", "3"], mv=[2.85, 2.95]),
]
# direction of the major ticks on the left frame edge (top row: outwards, bottom row: inwards)
Y_MAJOR_DIR = ["outside"] * 4 + ["inside"] * 4

# ---------------- panel geometry (pixels) ----------------
BOXES = [  # (left, top, right, bottom) of each frame
    (47.7, 58.3, 441.7, 320.0),
    (502.7, 50.7, 899.3, 314.0),
    (966.7, 51.0, 1352.7, 309.3),
    (1411.7, 50.0, 1795.0, 315.0),
    (45.7, 426.7, 442.7, 691.0),
    (501.7, 429.3, 898.3, 692.7),
    (967.3, 420.3, 1356.7, 685.0),
    (1416.7, 429.3, 1816.0, 695.0),
]
TITLE_POS = [(245, 27), (701, 19), (1160, 21), (1603, 18), (244, 395), (699, 398), (1162, 389), (1616, 397)]
XLAB_POS = [(244, 339), (701, 333), (1160, 328), (1603, 334), (244, 709), (700, 713), (1162, 704), (1617, 714)]
YLAB_POS = [(17, 189), (484, 183), (940, 180), (1386, 183), (19, 558), (475, 562), (950, 553), (1390, 562)]

FONT = "Liberation Serif"
FRAME = "#6e6e6e"
TEXT = "#222222"

fig = go.Figure()
layout = dict(
    width=W, height=H, margin=dict(l=0, r=0, t=0, b=0, pad=0),
    paper_bgcolor="white", plot_bgcolor="white", showlegend=False,
    font=dict(family=FONT, color=TEXT),
)
annotations, shapes = [], []
NP = len(BOXES)

for i, (box, series) in enumerate(zip(BOXES, SERIES)):
    n = i + 1
    xa = "x" if n == 1 else f"x{n}"
    ya = "y" if n == 1 else f"y{n}"
    l, t, r, b = box
    for vals, col in zip(series, SERIES_COLORS):
        fig.add_trace(go.Scatter(
            x=[k * TIME_STEP_PS for k in range(len(vals))], y=vals,
            mode="lines", line=dict(color=col, width=1.5),
            xaxis=xa, yaxis=ya, hoverinfo="skip",
        ))
    yc = Y_CFG[i]
    tickfont = dict(family=FONT, size=11, color=TEXT)
    layout["xaxis" if n == 1 else f"xaxis{n}"] = dict(
        domain=[l / W, r / W], anchor=ya, range=[0, 40000],
        showline=True, linecolor=FRAME, linewidth=1.5, mirror="allticks",
        ticks="inside", tickcolor=FRAME, tickwidth=1, ticklen=8,
        showgrid=False, zeroline=False, tickfont=tickfont, ticklabelstandoff=-5,
        tickmode="array", tickvals=X_TICKS, ticktext=X_LABELS[i],
        minor=dict(tickmode="array", tickvals=X_MINOR, ticks="inside", ticklen=4,
                   tickcolor=FRAME, showgrid=False))
    ydir = Y_MAJOR_DIR[i]
    layout["yaxis" if n == 1 else f"yaxis{n}"] = dict(
        domain=[1 - b / H, 1 - t / H], anchor=xa, range=yc["r"],
        showline=True, linecolor=FRAME, linewidth=1.5, mirror=True,
        ticks=ydir, tickcolor=FRAME, tickwidth=1, ticklen=8,
        ticklabelstandoff=(0 if ydir == "outside" else -3),
        showgrid=False, zeroline=False, tickfont=tickfont,
        tickmode="array", tickvals=yc["tv"], ticktext=yc["tt"],
        minor=dict(tickmode="array", tickvals=yc["mv"], ticks="inside", ticklen=5,
                   tickcolor=FRAME, showgrid=False))
    layout[f"yaxis{NP + n}"] = dict(
        overlaying=ya, side="right", anchor=xa, range=yc["r"],
        showline=False, ticks="inside", tickcolor=FRAME, tickwidth=1, ticklen=8,
        showticklabels=False, showgrid=False, zeroline=False,
        tickmode="array", tickvals=yc["tv"],
        minor=dict(tickmode="array", tickvals=yc["mv"], ticks="inside", ticklen=8,
                   tickcolor=FRAME, showgrid=False))
    for cx in (l, r):
        for cy in (t, b):
            shapes.append(dict(type="rect", xref="paper", yref="paper",
                               x0=(cx - 2.5) / W, x1=(cx + 2.5) / W,
                               y0=1 - (cy + 2.5) / H, y1=1 - (cy - 2.5) / H,
                               fillcolor="black", line=dict(width=0)))
    tx, ty = TITLE_POS[i]
    annotations.append(dict(text=TITLES[i], x=tx / W, y=1 - ty / H, xref="paper", yref="paper",
                            showarrow=False, xanchor="center", yanchor="middle",
                            font=dict(family=FONT, size=16, color=TEXT)))
    xx, xy = XLAB_POS[i]
    annotations.append(dict(text=X_TITLE, x=xx / W, y=1 - xy / H, xref="paper", yref="paper",
                            showarrow=False, xanchor="center", yanchor="middle",
                            font=dict(family=FONT, size=11, color=TEXT)))
    yx, yy = YLAB_POS[i]
    annotations.append(dict(text=Y_TITLE, x=yx / W, y=1 - yy / H, xref="paper", yref="paper",
                            showarrow=False, xanchor="center", yanchor="middle", textangle=-90,
                            font=dict(family=FONT, size=11, color=TEXT)))

layout["annotations"] = annotations
layout["shapes"] = shapes
fig.update_layout(**layout)
fig.write_html("out.html", config={"displayModeBar": False},
               post_script="document.body.style.margin='0';document.body.style.overflow='hidden';")
